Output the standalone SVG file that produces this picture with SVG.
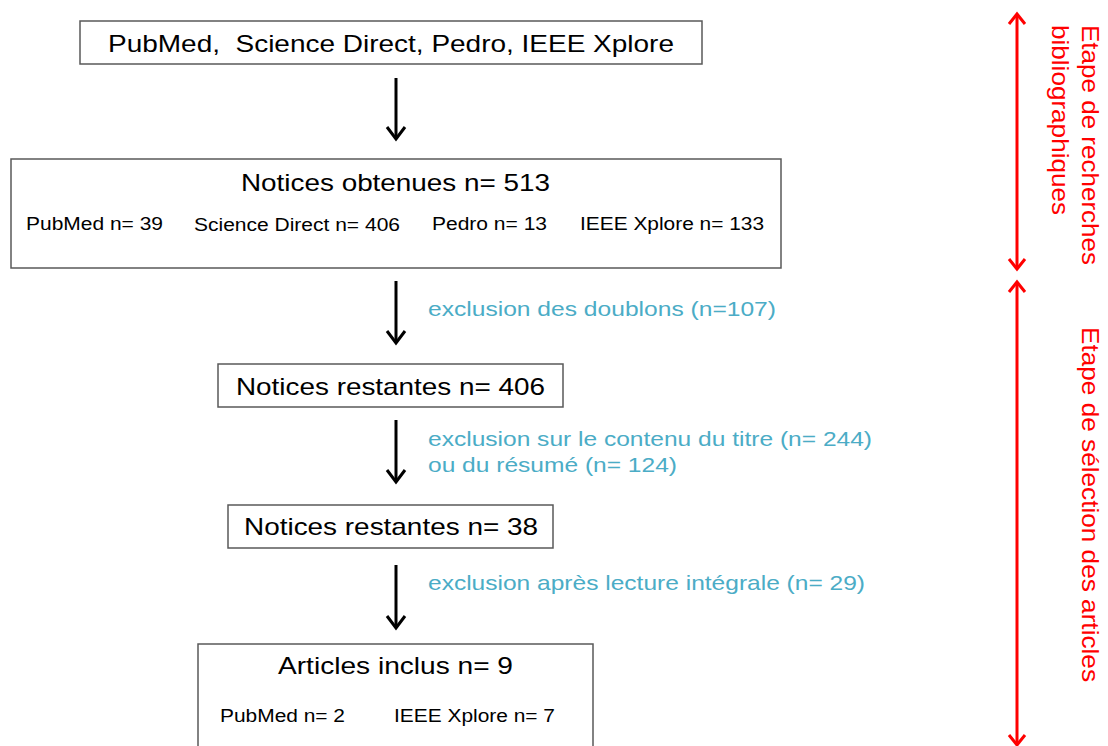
<svg xmlns="http://www.w3.org/2000/svg" width="1108" height="746" viewBox="0 0 1108 746">
<style>
.box{fill:#fff;stroke:#595959;stroke-width:1.5}
.t{font-family:"Liberation Sans",Arial,sans-serif;fill:#000}
.big{font-size:24px}
.small{font-size:18px}
.blue{font-family:"Liberation Sans",Arial,sans-serif;font-size:21px;fill:#4BACC6}
.red{font-family:"Liberation Sans",Arial,sans-serif;font-size:24px;fill:#FF0000}
.arr{stroke:#000;stroke-width:3;fill:none}
.rarr{stroke:#FF0000;stroke-width:3;fill:none}
</style>
<rect width="1108" height="746" fill="#fff"/>
<g id="n1">
<rect class="box" x="80" y="21" width="622" height="43"/>
<text class="t big" x="108" y="52" xml:space="preserve" textLength="566" lengthAdjust="spacingAndGlyphs">PubMed,  Science Direct, Pedro, IEEE Xplore</text>
</g>
<g id="n2">
<rect class="box" x="11" y="159" width="770" height="109"/>
<text class="t big" x="241" y="191" textLength="309" lengthAdjust="spacingAndGlyphs">Notices obtenues n= 513</text>
<text class="t small" x="26" y="230" textLength="137" lengthAdjust="spacingAndGlyphs">PubMed n= 39</text>
<text class="t small" x="194" y="231" textLength="206" lengthAdjust="spacingAndGlyphs">Science Direct n= 406</text>
<text class="t small" x="432" y="230" textLength="115" lengthAdjust="spacingAndGlyphs">Pedro n= 13</text>
<text class="t small" x="580" y="230" textLength="184" lengthAdjust="spacingAndGlyphs">IEEE Xplore n= 133</text>
</g>
<g id="n3">
<rect class="box" x="218" y="364" width="345" height="43"/>
<text class="t big" x="236" y="395" textLength="309" lengthAdjust="spacingAndGlyphs">Notices restantes n= 406</text>
</g>
<g id="n4">
<rect class="box" x="228" y="505" width="325" height="43"/>
<text class="t big" x="244" y="535" textLength="294" lengthAdjust="spacingAndGlyphs">Notices restantes n= 38</text>
</g>
<g id="n5">
<rect class="box" x="198" y="644" width="395" height="110"/>
<text class="t big" x="278" y="674" textLength="235" lengthAdjust="spacingAndGlyphs">Articles inclus n= 9</text>
<text class="t small" x="220" y="722" textLength="125" lengthAdjust="spacingAndGlyphs">PubMed n= 2</text>
<text class="t small" x="394" y="722" textLength="161" lengthAdjust="spacingAndGlyphs">IEEE Xplore n= 7</text>
</g>
<g id="labels">
<text class="blue" x="428" y="316" textLength="348" lengthAdjust="spacingAndGlyphs">exclusion des doublons (n=107)</text>
<text class="blue" x="428" y="446" textLength="444" lengthAdjust="spacingAndGlyphs">exclusion sur le contenu du titre (n= 244)</text>
<text class="blue" x="428" y="472" textLength="249" lengthAdjust="spacingAndGlyphs">ou du résumé (n= 124)</text>
<text class="blue" x="428" y="590" textLength="437" lengthAdjust="spacingAndGlyphs">exclusion après lecture intégrale (n= 29)</text>
</g>
<g id="connectors">
<line class="arr" x1="396" y1="78" x2="396" y2="139"/>
<polyline class="arr" points="387,127 396,139 405,127"/>
<line class="arr" x1="396" y1="281" x2="396" y2="343"/>
<polyline class="arr" points="387,331 396,343 405,331"/>
<line class="arr" x1="396" y1="420" x2="396" y2="482"/>
<polyline class="arr" points="387,470 396,482 405,470"/>
<line class="arr" x1="396" y1="565" x2="396" y2="628"/>
<polyline class="arr" points="387,616 396,628 405,616"/>
</g>
<g id="phases">
<line class="rarr" x1="1017" y1="14" x2="1017" y2="269"/>
<polyline class="rarr" points="1009,24 1017,14 1025,24"/>
<polyline class="rarr" points="1009,259 1017,269 1025,259"/>
<line class="rarr" x1="1017" y1="282" x2="1017" y2="745"/>
<polyline class="rarr" points="1009,292 1017,282 1025,292"/>
<polyline class="rarr" points="1009,735 1017,745 1025,735"/>
<text class="red" transform="translate(1082,25) rotate(90)" textLength="240" lengthAdjust="spacingAndGlyphs">Etape de recherches</text>
<text class="red" transform="translate(1052,25) rotate(90)" textLength="190" lengthAdjust="spacingAndGlyphs">bibliographiques</text>
<text class="red" transform="translate(1082,327) rotate(90)" textLength="355" lengthAdjust="spacingAndGlyphs">Etape de sélection des articles</text>
</g>
</svg>
